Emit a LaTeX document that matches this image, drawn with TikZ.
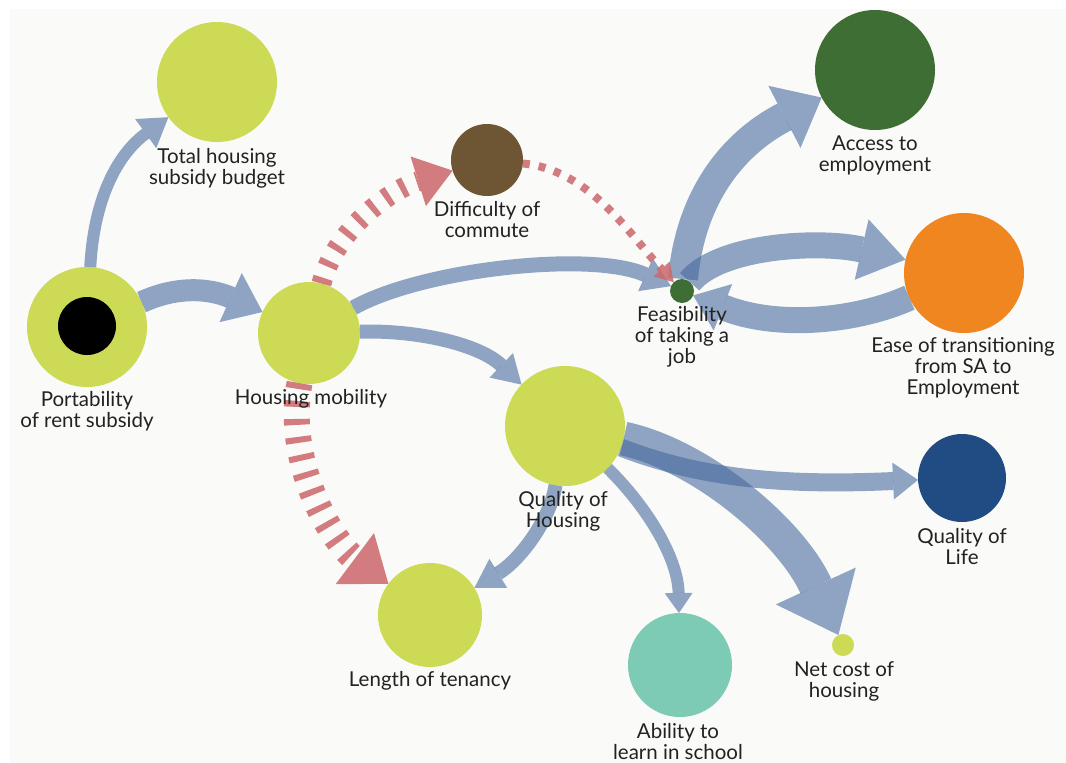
\documentclass[tikz,border=0pt]{standalone}
\usepackage{fontspec}
\setmainfont{Lato}
\usetikzlibrary{arrows.meta}
\pgfdeclarelayer{front}
\pgfsetlayers{main,front}

\definecolor{paper}{HTML}{FAFAF8}
\definecolor{ink}{HTML}{222222}
\definecolor{lime}{HTML}{CCDA55}
\definecolor{soil}{HTML}{6E5534}
\definecolor{forest}{HTML}{3E6E33}
\definecolor{amber}{HTML}{F0861F}
\definecolor{navy}{HTML}{214B83}
\definecolor{mint}{HTML}{7DCAB5}
\definecolor{flowblue}{RGB}{66,103,155}
\definecolor{flowred}{RGB}{205,103,106}

\begin{document}
\begin{tikzpicture}[x=1pt,y=-1pt,
  factor/.style={circle, draw=none, inner sep=0pt, outer sep=0pt, minimum size=#1},
  lbl/.style={align=center, text=ink, font=\fontsize{20.5}{21}\selectfont, inner sep=0pt},
  link/.style n args={3}{draw=flowblue, opacity=.58, line width=#1,
    -{Triangle[width=#2, length=#3, line width=0pt]}},
  dashlink/.style n args={3}{draw=flowred, opacity=.85, line width=#1,
    dash pattern=on 6pt off 12pt,
    -{Triangle[width=#2, length=#3, line width=0pt]}}
]
\useasboundingbox (0,0) rectangle (1066,763);
\fill[white] (0,0) rectangle (1066,763);
\fill[paper] (10,9) rectangle (1066,763);

% factors
\node[factor=120pt, fill=lime] (budget) at (217,82) {};
\node[factor=120pt, fill=lime] (port) at (87,327) {};
\node[factor=58pt, fill=black] (portcore) at (87,326) {};
\node[factor=102pt, fill=lime] (mob) at (309,333) {};
\node[factor=120pt, fill=lime] (qh) at (565,426) {};
\node[factor=104pt, fill=lime] (ten) at (430,615) {};
\node[factor=72pt, fill=soil] (diff) at (487,160) {};
\begin{pgfonlayer}{front}
\node[factor=24pt, fill=forest] (feas) at (682,291) {};
\end{pgfonlayer}
\node[factor=120pt, fill=forest] (access) at (875,70) {};
\node[factor=120pt, fill=amber] (ease) at (964,273) {};
\node[factor=88pt, fill=navy] (qol) at (962,478) {};
\node[factor=22pt, fill=lime] (net) at (843,645) {};
\node[factor=104pt, fill=mint] (abil) at (680,665) {};

% positive links
\draw[link={12}{36pt}{28pt}] (port) .. controls (95,180) and (130,145) .. (budget);
\draw[link={22}{54pt}{35pt}] (port) .. controls (190,280) and (225,295) .. (mob);
\draw[link={15}{36pt}{28pt}] (mob) .. controls (420,270) and (590,250) .. (feas);
\draw[link={14}{34pt}{28pt}] (mob) .. controls (420,330) and (480,345) .. (qh);
\draw[link={14}{34pt}{28pt}] (qh) .. controls (550,520) and (520,560) .. (ten);
\draw[link={12}{28pt}{20pt}] (qh) .. controls (650,510) and (678,560) .. (abil);
\draw[link={34}{88pt}{54pt}] (qh) .. controls (700,455) and (790,530) .. (net);
\draw[link={18}{37pt}{25pt}] (qh) .. controls (700,478) and (780,486) .. (qol);
\draw[link={30}{70pt}{42pt}] (feas) .. controls (690,200) and (730,145) .. (access);
\draw[link={26}{62pt}{45pt}] (feas) .. controls (720,245) and (820,240) .. (ease);
\draw[link={26}{50pt}{32pt}] (ease) .. controls (860,320) and (780,330) .. (feas);

% negative links
\draw[dashlink={20}{52pt}{36pt}] (mob) .. controls (335,230) and (390,190) .. (diff);
\draw[dashlink={26}{64pt}{42pt}] (mob) .. controls (285,460) and (330,540) .. (ten);
\draw[dashlink={8}{22pt}{18pt}, dash pattern=on 7pt off 9pt] (diff) .. controls (590,170) and (630,235) .. (feas);

% labels
\node[lbl] (budgetlbl) at (217,168) {Total housing\\subsidy budget};
\node[lbl] (portlbl) at (87,411) {Portability\\of rent subsidy};
\node[lbl] (moblbl) at (311,399) {Housing mobility};
\node[lbl] (qhlbl) at (563,511) {Quality of\\Housing};
\node[lbl] (tenlbl) at (430,681) {Length of tenancy};
\node[lbl] (difflbl) at (487,220) {Difficulty of\\commute};
\node[lbl] (feaslbl) at (682,337) {Feasibility\\of taking a\\job};
\node[lbl] (accesslbl) at (875,155) {Access to\\employment};
\node[lbl] (easelbl) at (963,368) {Ease of transitioning\\from SA to\\Employment};
\node[lbl] (qollbl) at (962,547) {Quality of\\Life};
\node[lbl] (netlbl) at (844,681) {Net cost of\\housing};
\node[lbl] (abillbl) at (678,742) {Ability to\\learn in school};
\end{tikzpicture}
\end{document}
